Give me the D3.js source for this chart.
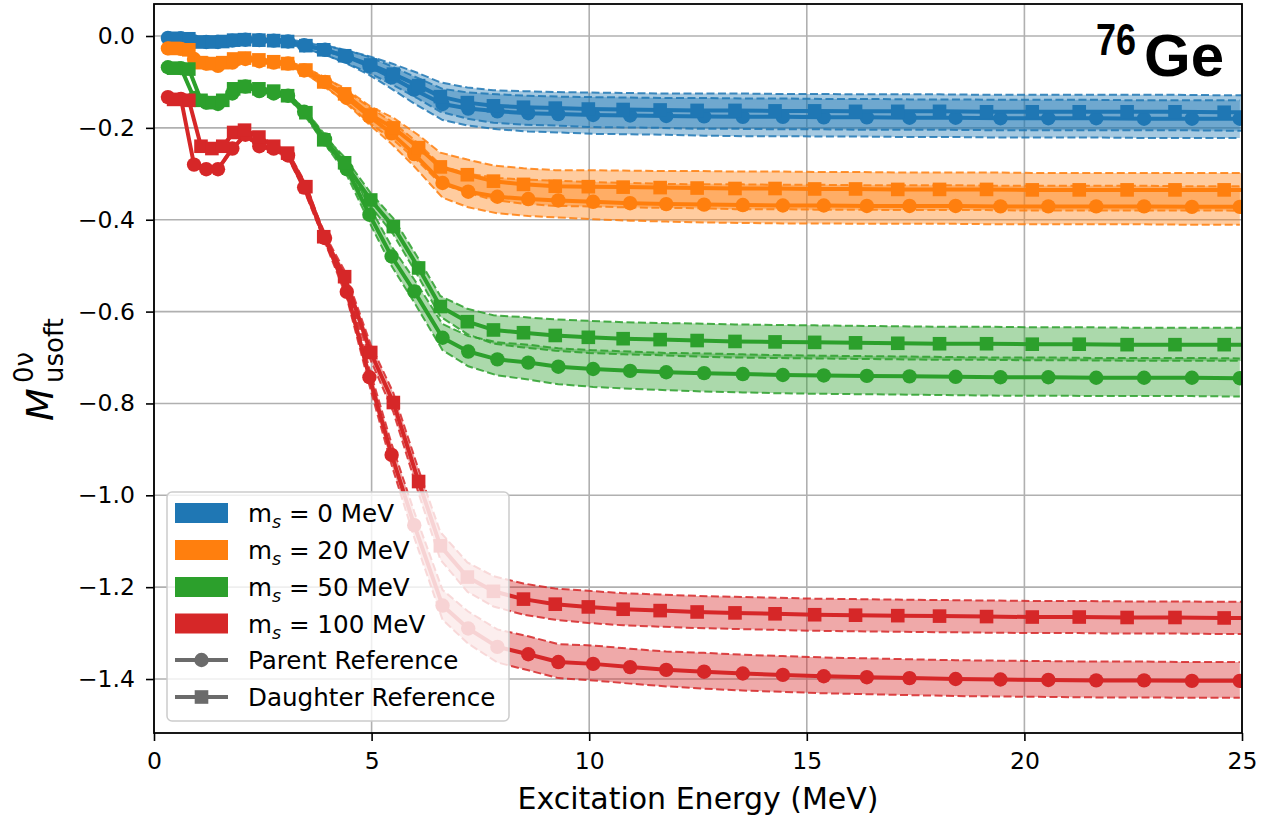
<!DOCTYPE html>
<html><head><meta charset="utf-8">
<script src="https://cdn.jsdelivr.net/npm/d3@7"></script>
<style>body{margin:0;background:#fff} svg{display:block}</style>
</head><body><svg id="c" width="1281" height="822"></svg>
<script>
// ---------------- DATA ----------------
const energyParent = [0.32,0.62,0.92,1.20,1.47,1.80,2.10,2.42,2.75,3.08,3.45,3.93,4.43,4.95,5.46,5.98,6.63,7.22,7.89,8.60,9.29,10.09,10.94,11.77,12.64,13.53,14.45,15.39,16.38,17.36,18.42,19.45,20.55,21.65,22.75,23.85,24.95];
const energyDaughter = [0.45,0.80,1.08,1.33,1.58,1.83,2.08,2.41,2.75,3.07,3.49,3.90,4.38,4.98,5.50,6.08,6.58,7.20,7.80,8.49,9.22,9.98,10.78,11.63,12.48,13.35,14.27,15.18,16.12,17.09,18.05,19.13,20.18,21.26,22.36,23.46,24.59,25.72];

const ms0Parent   = [-0.004,-0.005,-0.012,-0.013,-0.013,-0.010,-0.008,-0.009,-0.010,-0.012,-0.020,-0.030,-0.045,-0.065,-0.090,-0.117,-0.148,-0.158,-0.164,-0.168,-0.170,-0.172,-0.173,-0.174,-0.175,-0.176,-0.176,-0.177,-0.177,-0.178,-0.178,-0.179,-0.179,-0.179,-0.180,-0.180,-0.180];
const ms0Daughter = [-0.005,-0.006,-0.013,-0.013,-0.012,-0.009,-0.008,-0.009,-0.010,-0.012,-0.021,-0.030,-0.043,-0.063,-0.083,-0.108,-0.132,-0.145,-0.152,-0.155,-0.157,-0.159,-0.160,-0.161,-0.162,-0.162,-0.163,-0.163,-0.164,-0.164,-0.164,-0.165,-0.165,-0.165,-0.165,-0.165,-0.166,-0.166];
const ms20Parent   = [-0.027,-0.028,-0.050,-0.060,-0.065,-0.058,-0.050,-0.055,-0.058,-0.060,-0.075,-0.100,-0.135,-0.175,-0.212,-0.257,-0.320,-0.339,-0.350,-0.355,-0.358,-0.361,-0.364,-0.366,-0.367,-0.368,-0.369,-0.369,-0.370,-0.370,-0.370,-0.371,-0.371,-0.371,-0.371,-0.372,-0.372];
const ms20Daughter = [-0.027,-0.030,-0.058,-0.060,-0.058,-0.050,-0.048,-0.052,-0.056,-0.060,-0.074,-0.100,-0.126,-0.172,-0.200,-0.243,-0.285,-0.302,-0.316,-0.323,-0.327,-0.328,-0.329,-0.330,-0.331,-0.332,-0.332,-0.333,-0.333,-0.334,-0.334,-0.334,-0.335,-0.335,-0.335,-0.335,-0.335,-0.336];
const ms50Parent   = [-0.068,-0.070,-0.135,-0.145,-0.148,-0.125,-0.110,-0.120,-0.125,-0.130,-0.165,-0.225,-0.290,-0.389,-0.480,-0.556,-0.657,-0.687,-0.704,-0.711,-0.720,-0.725,-0.729,-0.732,-0.734,-0.736,-0.738,-0.739,-0.740,-0.741,-0.742,-0.743,-0.743,-0.744,-0.744,-0.744,-0.745];
const ms50Daughter = [-0.070,-0.072,-0.140,-0.145,-0.140,-0.115,-0.110,-0.115,-0.120,-0.130,-0.167,-0.226,-0.276,-0.357,-0.415,-0.505,-0.589,-0.622,-0.640,-0.646,-0.652,-0.656,-0.659,-0.661,-0.663,-0.665,-0.666,-0.667,-0.668,-0.669,-0.670,-0.670,-0.671,-0.671,-0.672,-0.672,-0.672,-0.673];
const ms100Parent   = [-0.133,-0.137,-0.280,-0.290,-0.290,-0.245,-0.215,-0.240,-0.245,-0.260,-0.330,-0.440,-0.557,-0.743,-0.912,-1.065,-1.240,-1.290,-1.330,-1.346,-1.363,-1.367,-1.374,-1.380,-1.384,-1.388,-1.391,-1.394,-1.396,-1.398,-1.400,-1.401,-1.402,-1.403,-1.403,-1.404,-1.404];
const ms100Daughter = [-0.138,-0.140,-0.240,-0.245,-0.240,-0.210,-0.205,-0.220,-0.240,-0.255,-0.328,-0.437,-0.524,-0.689,-0.798,-0.970,-1.110,-1.178,-1.209,-1.226,-1.237,-1.243,-1.248,-1.251,-1.254,-1.256,-1.258,-1.260,-1.261,-1.262,-1.263,-1.264,-1.265,-1.265,-1.266,-1.266,-1.267,-1.267];

// band extents above (Up) and below (Lo) each curve
const ms0ParentUp   = [0.002,0.002,0.003,0.003,0.003,0.003,0.003,0.004,0.004,0.005,0.007,0.010,0.014,0.019,0.024,0.029,0.033,0.035,0.037,0.038,0.038,0.039,0.039,0.039,0.040,0.040,0.040,0.040,0.040,0.040,0.040,0.040,0.040,0.040,0.040,0.040,0.040];
const ms0ParentLo   = [0.002,0.002,0.003,0.003,0.003,0.003,0.003,0.004,0.004,0.005,0.007,0.011,0.015,0.020,0.025,0.030,0.035,0.037,0.039,0.040,0.040,0.041,0.041,0.041,0.042,0.042,0.042,0.042,0.042,0.042,0.042,0.042,0.042,0.042,0.042,0.042,0.042];
const ms0DaughterUp = [0.002,0.002,0.003,0.003,0.003,0.003,0.003,0.004,0.004,0.005,0.006,0.009,0.013,0.018,0.022,0.027,0.031,0.033,0.034,0.035,0.035,0.036,0.036,0.036,0.037,0.037,0.037,0.037,0.037,0.037,0.037,0.037,0.037,0.037,0.037,0.037,0.037,0.037];
const ms0DaughterLo = [0.002,0.002,0.003,0.003,0.003,0.003,0.003,0.004,0.004,0.005,0.007,0.010,0.014,0.019,0.024,0.029,0.033,0.035,0.037,0.038,0.038,0.039,0.039,0.039,0.040,0.040,0.040,0.040,0.040,0.040,0.040,0.040,0.040,0.040,0.040,0.040,0.040,0.040];
const ms20ParentUp   = [0.002,0.002,0.003,0.003,0.003,0.003,0.003,0.004,0.004,0.005,0.007,0.010,0.015,0.020,0.026,0.031,0.036,0.039,0.041,0.042,0.043,0.043,0.044,0.044,0.044,0.045,0.045,0.045,0.045,0.045,0.045,0.045,0.045,0.045,0.045,0.045,0.045];
const ms20ParentLo   = [0.002,0.002,0.003,0.003,0.003,0.003,0.003,0.004,0.004,0.005,0.006,0.009,0.013,0.018,0.023,0.027,0.032,0.034,0.036,0.037,0.037,0.038,0.038,0.038,0.039,0.039,0.039,0.039,0.039,0.039,0.039,0.039,0.039,0.039,0.039,0.039,0.039];
const ms20DaughterUp = [0.002,0.002,0.003,0.003,0.003,0.003,0.003,0.004,0.004,0.005,0.006,0.009,0.013,0.018,0.022,0.027,0.031,0.033,0.034,0.035,0.035,0.036,0.036,0.036,0.037,0.037,0.037,0.037,0.037,0.037,0.037,0.037,0.037,0.037,0.037,0.037,0.037,0.037];
const ms20DaughterLo = [0.002,0.002,0.003,0.003,0.003,0.003,0.003,0.004,0.004,0.005,0.007,0.010,0.015,0.020,0.026,0.031,0.036,0.039,0.041,0.042,0.043,0.043,0.044,0.044,0.044,0.045,0.045,0.045,0.045,0.045,0.045,0.045,0.045,0.045,0.045,0.045,0.045,0.045];
const ms50ParentUp   = [0.002,0.002,0.003,0.003,0.003,0.003,0.003,0.004,0.004,0.005,0.007,0.010,0.014,0.018,0.022,0.026,0.030,0.034,0.037,0.039,0.040,0.041,0.042,0.042,0.043,0.043,0.043,0.043,0.043,0.043,0.043,0.043,0.043,0.043,0.043,0.043,0.043];
const ms50ParentLo   = [0.002,0.002,0.003,0.003,0.003,0.003,0.003,0.004,0.004,0.005,0.007,0.010,0.013,0.017,0.021,0.024,0.027,0.032,0.035,0.037,0.038,0.039,0.039,0.039,0.040,0.040,0.040,0.040,0.040,0.040,0.040,0.040,0.040,0.040,0.040,0.040,0.040];
const ms50DaughterUp = [0.002,0.002,0.003,0.003,0.003,0.003,0.003,0.004,0.004,0.005,0.006,0.009,0.012,0.015,0.018,0.020,0.023,0.028,0.032,0.034,0.035,0.036,0.036,0.036,0.037,0.037,0.037,0.037,0.037,0.037,0.037,0.037,0.037,0.037,0.037,0.037,0.037,0.037];
const ms50DaughterLo = [0.002,0.002,0.003,0.003,0.003,0.003,0.003,0.004,0.004,0.005,0.006,0.008,0.011,0.014,0.017,0.020,0.022,0.027,0.030,0.032,0.033,0.034,0.034,0.034,0.035,0.035,0.035,0.035,0.035,0.035,0.035,0.035,0.035,0.035,0.035,0.035,0.035,0.035];
const ms100ParentUp   = [0.002,0.002,0.003,0.003,0.003,0.003,0.003,0.004,0.004,0.005,0.007,0.010,0.014,0.019,0.024,0.029,0.034,0.037,0.038,0.039,0.039,0.040,0.040,0.040,0.041,0.041,0.041,0.041,0.041,0.041,0.041,0.041,0.041,0.041,0.041,0.041,0.041];
const ms100ParentLo   = [0.002,0.002,0.003,0.003,0.003,0.003,0.003,0.004,0.004,0.005,0.006,0.009,0.013,0.018,0.022,0.027,0.031,0.033,0.034,0.035,0.035,0.036,0.036,0.036,0.037,0.037,0.037,0.037,0.037,0.037,0.037,0.037,0.037,0.037,0.037,0.037,0.037];
const ms100DaughterUp = [0.002,0.002,0.003,0.003,0.003,0.003,0.003,0.004,0.004,0.005,0.006,0.009,0.013,0.017,0.021,0.026,0.030,0.032,0.033,0.034,0.034,0.035,0.035,0.035,0.035,0.035,0.035,0.035,0.035,0.035,0.035,0.035,0.035,0.035,0.035,0.035,0.035,0.035];
const ms100DaughterLo = [0.002,0.002,0.003,0.003,0.003,0.003,0.003,0.004,0.004,0.005,0.006,0.009,0.013,0.017,0.021,0.026,0.030,0.032,0.033,0.034,0.034,0.035,0.035,0.035,0.035,0.035,0.035,0.035,0.035,0.035,0.035,0.035,0.035,0.035,0.035,0.035,0.035,0.035];

const massLabels = ["0", "20", "50", "100"];
const seriesColors = ["#1f77b4", "#ff7f0e", "#2ca02c", "#d62728"];
const xTicks = [0, 5, 10, 15, 20, 25];
const yTicks = [0.0, -0.2, -0.4, -0.6, -0.8, -1.0, -1.2, -1.4];

// ---------------- CHART ----------------
const series = [
  {p: ms0Parent, d: ms0Daughter, pu: ms0ParentUp, pl: ms0ParentLo, du: ms0DaughterUp, dl: ms0DaughterLo},
  {p: ms20Parent, d: ms20Daughter, pu: ms20ParentUp, pl: ms20ParentLo, du: ms20DaughterUp, dl: ms20DaughterLo},
  {p: ms50Parent, d: ms50Daughter, pu: ms50ParentUp, pl: ms50ParentLo, du: ms50DaughterUp, dl: ms50DaughterLo},
  {p: ms100Parent, d: ms100Daughter, pu: ms100ParentUp, pl: ms100ParentLo, du: ms100DaughterUp, dl: ms100DaughterLo}
].map((s, i) => ({...s, color: seriesColors[i], label: massLabels[i]}));

const svg = d3.select("#c");
const M = {left: 154, right: 1242, top: 4, bottom: 733};
const x = d3.scaleLinear().domain([0, 25]).range([M.left, M.right]);
const y = d3.scaleLinear().domain([0.0697, -1.5175]).range([M.top, M.bottom]);
const FONT = "DejaVu Sans, sans-serif";

svg.append("defs").append("clipPath").attr("id", "clip")
  .append("rect").attr("x", M.left).attr("y", M.top)
  .attr("width", M.right - M.left).attr("height", M.bottom - M.top);

// grid
const grid = svg.append("g");
grid.selectAll(".gx").data(xTicks).enter().append("line")
  .attr("x1", d => x(d)).attr("x2", d => x(d)).attr("y1", M.top).attr("y2", M.bottom)
  .attr("stroke", "#b0b0b0").attr("stroke-width", 1.6);
grid.selectAll(".gy").data(yTicks).enter().append("line")
  .attr("y1", d => y(d)).attr("y2", d => y(d)).attr("x1", M.left).attr("x2", M.right)
  .attr("stroke", "#b0b0b0").attr("stroke-width", 1.6);

const plot = svg.append("g").attr("clip-path", "url(#clip)");

function drawBand(g, E, c, up, lo, color) {
  const idx = d3.range(E.length);
  g.append("path").datum(idx)
    .attr("d", d3.area().x(i => x(E[i])).y0(i => y(c[i] - lo[i])).y1(i => y(c[i] + up[i])))
    .attr("fill", color).attr("fill-opacity", 0.4).attr("stroke", "none");
  [i => y(c[i] + up[i]), i => y(c[i] - lo[i])].forEach(fy => {
    g.append("path").datum(idx)
      .attr("d", d3.line().x(i => x(E[i])).y(fy))
      .attr("fill", "none").attr("stroke", color).attr("stroke-width", 2)
      .attr("stroke-opacity", 0.85).attr("stroke-dasharray", "8,3.5");
  });
}
function drawLine(g, E, c, color, marker) {
  const idx = d3.range(E.length);
  g.append("path").datum(idx)
    .attr("d", d3.line().x(i => x(E[i])).y(i => y(c[i])))
    .attr("fill", "none").attr("stroke", color).attr("stroke-width", 4)
    .attr("stroke-linejoin", "round");
  if (marker === "circle") {
    g.selectAll(null).data(idx).enter().append("circle")
      .attr("cx", i => x(E[i])).attr("cy", i => y(c[i])).attr("r", 7.2).attr("fill", color);
  } else {
    g.selectAll(null).data(idx).enter().append("rect")
      .attr("x", i => x(E[i]) - 6.8).attr("y", i => y(c[i]) - 6.8)
      .attr("width", 13.6).attr("height", 13.6).attr("fill", color);
  }
}

series.forEach(s => {
  const g = plot.append("g");
  drawBand(g, energyParent, s.p, s.pu, s.pl, s.color);
  drawBand(g, energyDaughter, s.d, s.du, s.dl, s.color);
  drawLine(g, energyParent, s.p, s.color, "circle");
  drawLine(g, energyDaughter, s.d, s.color, "square");
});

// axes
const xAxis = svg.append("g").attr("transform", `translate(0,${M.bottom})`)
  .call(d3.axisBottom(x).tickValues(xTicks).tickFormat(d3.format("d")).tickSize(8).tickPadding(11).tickSizeOuter(0));
const yAxis = svg.append("g").attr("transform", `translate(${M.left},0)`)
  .call(d3.axisLeft(y).tickValues(yTicks).tickFormat(d3.format(".1f")).tickSize(8).tickPadding(11).tickSizeOuter(0));
[xAxis, yAxis].forEach(a => {
  a.select(".domain").remove();
  a.selectAll(".tick line").attr("stroke", "#000").attr("stroke-width", 1.6);
  a.selectAll(".tick text").attr("font-family", FONT).attr("font-size", 23.5).attr("fill", "#000");
});
// frame
svg.append("rect").attr("x", M.left).attr("y", M.top)
  .attr("width", M.right - M.left).attr("height", M.bottom - M.top)
  .attr("fill", "none").attr("stroke", "#000").attr("stroke-width", 1.8);

// x label
svg.append("text").attr("x", (M.left + M.right) / 2).attr("y", 809)
  .attr("text-anchor", "middle").attr("font-family", FONT).attr("font-size", 30)
  .text("Excitation Energy (MeV)");

// y label
const yl = svg.append("g").attr("transform", "translate(53,421) rotate(-90)");
yl.append("text").attr("x", 0).attr("y", 0).attr("font-family", FONT)
  .attr("font-style", "italic").attr("font-size", 38).text("M");
yl.append("text").attr("x", 38).attr("y", 10).attr("font-family", FONT)
  .attr("font-size", 26).text("usoft");
yl.append("text").attr("x", 38).attr("y", -20).attr("font-family", FONT)
  .attr("font-size", 26).text("0ν");

// isotope label
svg.append("text").attr("x", 1096).attr("y", 55).attr("font-family", "Liberation Sans, Arial, sans-serif")
  .attr("font-weight", "bold").attr("font-size", 44)
  .attr("textLength", 40).attr("lengthAdjust", "spacingAndGlyphs").text("76");
svg.append("text").attr("x", 1144).attr("y", 76).attr("font-family", "Liberation Sans, Arial, sans-serif")
  .attr("font-weight", "bold").attr("font-size", 60).text("Ge");

// legend
const lg = svg.append("g");
lg.append("rect").attr("x", 167).attr("y", 492).attr("width", 342).attr("height", 229)
  .attr("rx", 5).attr("fill", "#fff").attr("fill-opacity", 0.8)
  .attr("stroke", "#cccccc").attr("stroke-width", 1.5);
const rowY = [513, 550, 587, 623.5, 660, 697];
series.forEach((s, i) => {
  lg.append("rect").attr("x", 175).attr("y", rowY[i] - 10).attr("width", 53).attr("height", 20).attr("fill", s.color);
  const t = lg.append("text").attr("x", 248).attr("y", rowY[i] + 9).attr("font-family", FONT).attr("font-size", 24.6);
  t.append("tspan").text("m");
  t.append("tspan").attr("dy", 6).attr("font-size", 17.5).attr("font-style", "italic").text("s");
  t.append("tspan").attr("dy", -6).text(` = ${s.label} MeV`);
});
const refLabels = ["Parent Reference", "Daughter Reference"];
refLabels.forEach((lab, k) => {
  const yy = rowY[4 + k];
  lg.append("line").attr("x1", 175).attr("x2", 228).attr("y1", yy).attr("y2", yy)
    .attr("stroke", "#6b6b6b").attr("stroke-width", 4);
  if (k === 0) lg.append("circle").attr("cx", 201.5).attr("cy", yy).attr("r", 7.2).attr("fill", "#6b6b6b");
  else lg.append("rect").attr("x", 194.7).attr("y", yy - 6.8).attr("width", 13.6).attr("height", 13.6).attr("fill", "#6b6b6b");
  lg.append("text").attr("x", 248).attr("y", yy + 9).attr("font-family", FONT).attr("font-size", 24.6).text(lab);
});
</script></body></html>
